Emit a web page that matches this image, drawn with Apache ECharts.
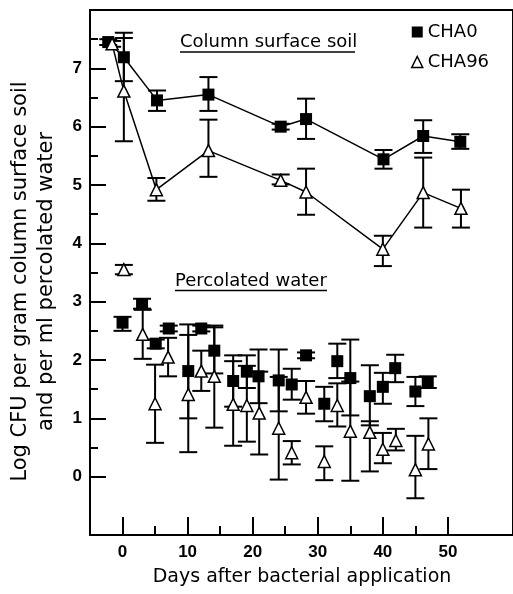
<!DOCTYPE html>
<html><head><meta charset="utf-8">
<script src="https://cdn.jsdelivr.net/npm/echarts@6/dist/echarts.min.js"></script>
<style>html,body{margin:0;padding:0;background:#fff}#c{width:513px;height:594px}</style>
</head><body><div id="c"></div>
<script>
// ---- Data ----
// Column surface soil, CHA0
const surfDaysA = [-2.2, 0.2, 5.3, 13.2, 24.3, 28.2, 40.1, 46.2, 51.9];
const surfA     = [7.45, 7.19, 6.45, 6.55, 6.00, 6.13, 5.44, 5.84, 5.74];
const surfA_lo  = [7.40, 6.78, 6.27, 6.27, 5.95, 5.79, 5.28, 5.55, 5.62];
const surfA_hi  = [7.50, 7.61, 6.62, 6.85, 6.05, 6.48, 5.60, 6.11, 5.87];
// Column surface soil, CHA96
const surfDaysB = [-1.6, 0.2, 5.2, 13.2, 24.3, 28.2, 40.0, 46.2, 52.0];
const surfB     = [7.42, 6.61, 4.92, 5.59, 5.08, 4.88, 3.90, 4.87, 4.60];
const surfB_lo  = [7.37, 5.75, 4.73, 5.14, 5.01, 4.49, 3.61, 4.27, 4.27];
const surfB_hi  = [7.47, 7.52, 5.12, 6.12, 5.18, 5.28, 4.13, 5.47, 4.92];
// Percolated water, CHA0
const percDaysA = [0, 3, 5.1, 7.1, 10.1, 12.1, 14.1, 17, 19.1, 20.9, 24, 26, 28.2, 31, 33, 35, 38, 40, 41.9, 45, 46.9];
const percA     = [2.64, 2.96, 2.28, 2.54, 1.81, 2.54, 2.16, 1.64, 1.80, 1.72, 1.65, 1.58, 2.08, 1.25, 1.98, 1.69, 1.38, 1.54, 1.86, 1.46, 1.62];
const percA_lo  = [2.50, 2.88, 2.20, 2.49, 1.00, 2.49, 1.77, 1.20, 1.52, 1.26, 1.12, 1.32, 2.03, 0.95, 1.69, 1.05, 0.88, 1.25, 1.62, 1.21, 1.52];
const percA_hi  = [2.74, 3.05, 2.35, 2.59, 2.61, 2.59, 2.59, 2.08, 2.08, 2.18, 2.18, 1.85, 2.13, 1.54, 2.28, 2.35, 1.91, 1.78, 2.09, 1.71, 1.72];
// Percolated water, CHA96
const percDaysB = [0.2, 3.1, 5.0, 7.0, 10.1, 12.1, 14.1, 17, 19.1, 21, 24, 26, 28.2, 31, 33, 35, 38, 40, 42, 45, 47];
const percB     = [3.55, 2.44, 1.25, 2.05, 1.41, 1.81, 1.72, 1.24, 1.22, 1.09, 0.83, 0.41, 1.36, 0.26, 1.22, 0.78, 0.76, 0.47, 0.62, 0.12, 0.56];
const percB_lo  = [3.47, 2.02, 0.58, 1.72, 0.42, 1.47, 0.84, 0.53, 0.60, 0.38, -0.05, 0.21, 1.08, -0.06, 0.86, -0.07, 0.09, 0.23, 0.45, -0.37, 0.13];
const percB_hi  = [3.63, 2.86, 1.92, 2.38, 2.43, 2.16, 2.56, 1.98, 1.90, 1.80, 1.71, 0.61, 1.64, 0.52, 1.60, 1.63, 0.95, 0.75, 0.82, 0.70, 1.00];
// Axis ticks / labels
const xMajor = [0, 10, 20, 30, 40, 50];
const xMinor = [5, 15, 25, 35, 45];
const yMajor = [0, 1, 2, 3, 4, 5, 6, 7];
const yMinor = [0.5, 1.5, 2.5, 3.5, 4.5, 5.5, 6.5, 7.5];
const legendNames = ['CHA0', 'CHA96'];
const xTitle = 'Days after bacterial application';
const yTitle = 'Log CFU per gram column surface soil\nand per ml percolated water';
const note1 = 'Column surface soil';
const note2 = 'Percolated water';

// ---- helpers ----
const pts = (d, v) => d.map((x, i) => [x, v[i]]);
const errs = (d, lo, hi) => d.map((x, i) => [x, lo[i], hi[i]]);
const CAP = 9;
function errRender(params, api) {
  const x = api.value(0), lo = api.value(1), hi = api.value(2);
  const a = api.coord([x, lo]), b = api.coord([x, hi]);
  const st = { stroke: '#000', lineWidth: 2 };
  return { type: 'group', children: [
    { type: 'line', shape: { x1: a[0], y1: a[1], x2: b[0], y2: b[1] }, style: st },
    { type: 'line', shape: { x1: a[0] - CAP, y1: a[1], x2: a[0] + CAP, y2: a[1] }, style: st },
    { type: 'line', shape: { x1: b[0] - CAP, y1: b[1], x2: b[0] + CAP, y2: b[1] }, style: st }
  ]};
}
function errSeries(name, d, lo, hi) {
  return { type: 'custom', name: name, renderItem: errRender, data: errs(d, lo, hi),
    encode: { x: 0, y: [1, 2] }, z: 2, silent: true };
}
const tickFont = { fontFamily: 'Liberation Sans', fontWeight: 'bold', fontSize: 17, color: '#000' };
const txtFont = 'DejaVu Sans';
const squareStyle = { color: '#000', opacity: 1 };
const triStyle = { color: '#fff', borderColor: '#000', borderWidth: 1.5, opacity: 1 };

const chart = echarts.init(document.getElementById('c'), null, { renderer: 'canvas' });
chart.setOption({
  animation: false,
  backgroundColor: '#fff',
  grid: { left: 86, top: 10, width: 468, height: 525, show: true, borderColor: '#000', borderWidth: 2 },
  xAxis: [
    { type: 'value', min: -5, max: 60, position: 'bottom',
      axisLine: { show: true, onZero: false, lineStyle: { color: '#000', width: 2 } },
      axisTick: { show: true, inside: true, length: 18, lineStyle: { color: '#000', width: 2 }, customValues: xMajor },
      axisLabel: Object.assign({ customValues: xMajor, margin: 9 }, tickFont),
      splitLine: { show: false } },
    { type: 'value', min: -5, max: 60, position: 'bottom', gridIndex: 0,
      axisLine: { show: false, onZero: false },
      axisTick: { show: true, inside: true, length: 9, lineStyle: { color: '#000', width: 2 }, customValues: xMinor },
      axisLabel: { show: false }, splitLine: { show: false } }
  ],
  yAxis: [
    { type: 'value', min: -1, max: 8, position: 'left',
      axisLine: { show: true, onZero: false, lineStyle: { color: '#000', width: 2 } },
      axisTick: { show: true, inside: true, length: 16, lineStyle: { color: '#000', width: 2 }, customValues: yMajor },
      axisLabel: Object.assign({ customValues: yMajor, margin: 8 }, tickFont),
      splitLine: { show: false },
      name: yTitle, nameLocation: 'middle', nameGap: 30,
      nameTextStyle: { fontFamily: txtFont, fontSize: 21, lineHeight: 26, color: '#000', padding: [0, 18, 0, 0] } },
    { type: 'value', min: -1, max: 8, position: 'left', offset: 0,
      axisLine: { show: false, onZero: false },
      axisTick: { show: true, inside: true, length: 8, lineStyle: { color: '#000', width: 2 }, customValues: yMinor },
      axisLabel: { show: false }, splitLine: { show: false } }
  ],
  legend: {
    orient: 'vertical', left: 411, top: 23, padding: 0, itemWidth: 11, itemHeight: 11, itemGap: 12,
    textStyle: { fontFamily: txtFont, fontSize: 18, color: '#000' },
    selectedMode: false,
    data: [
      { name: legendNames[0], icon: 'rect', itemStyle: squareStyle },
      { name: legendNames[1], icon: 'triangle', itemStyle: triStyle }
    ]
  },
  graphic: [
    { type: 'text', x: 180, y: 42, style: { text: note1, font: '18px ' + txtFont, fill: '#000', textAlign: 'left', textVerticalAlign: 'middle' } },
    { type: 'line', shape: { x1: 180, y1: 52, x2: 355, y2: 52 }, style: { stroke: '#000', lineWidth: 1.5 } },
    { type: 'text', x: 175, y: 281, style: { text: note2, font: '18px ' + txtFont, fill: '#000', textAlign: 'left', textVerticalAlign: 'middle' } },
    { type: 'line', shape: { x1: 175, y1: 290.5, x2: 327, y2: 290.5 }, style: { stroke: '#000', lineWidth: 1.5 } },
    { type: 'text', x: 302, y: 577, style: { text: xTitle, font: '19px ' + txtFont, fill: '#000', textAlign: 'center', textVerticalAlign: 'middle' } }
  ],
  series: [
    errSeries('errSA', surfDaysA, surfA_lo, surfA_hi),
    errSeries('errSB', surfDaysB, surfB_lo, surfB_hi),
    errSeries('errPA', percDaysA, percA_lo, percA_hi),
    errSeries('errPB', percDaysB, percB_lo, percB_hi),
    { type: 'line', name: legendNames[0], data: pts(surfDaysA, surfA), symbol: 'rect', symbolSize: 12,
      itemStyle: squareStyle, lineStyle: { color: '#000', width: 1.5 }, z: 3, silent: true },
    { type: 'line', name: legendNames[1], data: pts(surfDaysB, surfB), symbol: 'triangle', symbolSize: [12, 12],
      itemStyle: triStyle, lineStyle: { color: '#000', width: 1.5 }, z: 3, silent: true },
    { type: 'scatter', name: legendNames[0], data: pts(percDaysA, percA), symbol: 'rect', symbolSize: 12,
      itemStyle: squareStyle, z: 4, silent: true },
    { type: 'scatter', name: legendNames[1], data: pts(percDaysB, percB), symbol: 'triangle', symbolSize: [12, 12],
      itemStyle: triStyle, z: 4, silent: true }
  ]
});
</script>
</body></html>
